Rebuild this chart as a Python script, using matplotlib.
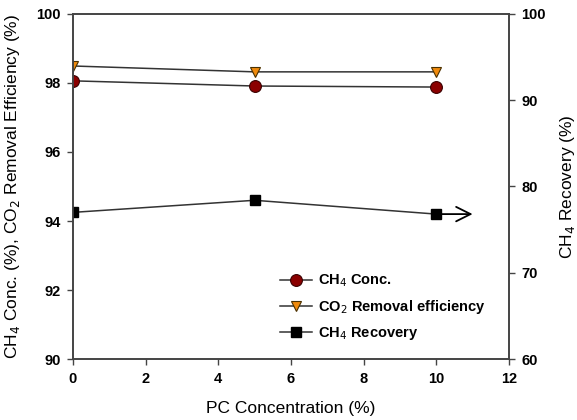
import matplotlib
matplotlib.use("Agg")
import matplotlib.pyplot as plt

plt.rcParams['font.family'] = ['Liberation Sans', 'DejaVu Sans']

pc = [0, 5, 10]
ch4_conc = [98.06, 97.91, 97.88]
co2_removal = [98.49, 98.32, 98.32]
ch4_recovery = [77.0, 78.4, 76.8]

xticks = [0, 2, 4, 6, 8, 10, 12]
yticks_left = [90, 92, 94, 96, 98, 100]
yticks_right = [60, 70, 80, 90, 100]

fig = plt.figure(figsize=(5.77, 4.2), dpi=100)
ax = fig.add_axes([0.1265, 0.145, 0.7555, 0.822])
ax2 = ax.twinx()

l1, = ax.plot(pc, ch4_conc, color='#333333', lw=1.1, marker='o', ms=8.5,
              mfc='#8B0000', mec='#3a0000', mew=0.8, label='CH$_4$ Conc.')
l2, = ax.plot(pc, co2_removal, color='#333333', lw=1.1, marker='v', ms=7.5,
              mfc='#F08A0C', mec='#4a3000', mew=0.8, label='CO$_2$ Removal efficiency')
l3, = ax2.plot(pc, ch4_recovery, color='#333333', lw=1.1, marker='s', ms=7.5,
               mfc='black', mec='black', label='CH$_4$ Recovery')
ax2.annotate('', xy=(11, ch4_recovery[-1]), xytext=(pc[-1], ch4_recovery[-1]),
             arrowprops=dict(arrowstyle='->', color='black', lw=1.3,
                             mutation_scale=26, shrinkA=0, shrinkB=0))

ax.set_xlim(0, 12)
ax.set_ylim(90, 100)
ax2.set_ylim(60, 100)
ax.set_xticks(xticks)
ax.set_yticks(yticks_left)
ax2.set_yticks(yticks_right)

for a in (ax, ax2):
    a.tick_params(direction='out', length=4, width=1.0, color='#444444', labelsize=10.5, pad=5)
    for lab in a.get_xticklabels() + a.get_yticklabels():
        lab.set_fontweight('bold')
    for s in a.spines.values():
        s.set_color('#444444')
        s.set_linewidth(1.2)

ax.set_xlabel('PC Concentration (%)', fontsize=12.5)
ax.xaxis.set_label_coords(0.5, -0.122)
ax.set_ylabel('CH$_4$ Conc. (%), CO$_2$ Removal Efficiency (%)', fontsize=12.5)
ax.yaxis.set_label_coords(-0.117, 0.5)
ax2.set_ylabel('CH$_4$ Recovery (%)', fontsize=12.5)
ax2.yaxis.set_label_coords(1.112, 0.5)

leg = ax.legend(handles=[l1, l2, l3], loc='center left', bbox_to_anchor=(0.475, 0.15),
                frameon=False, fontsize=10.5, handlelength=2.2, handletextpad=0.4,
                labelspacing=0.6, borderaxespad=0, borderpad=0)
for t in leg.get_texts():
    t.set_fontweight('bold')

fig.savefig('out.png', dpi=100)
